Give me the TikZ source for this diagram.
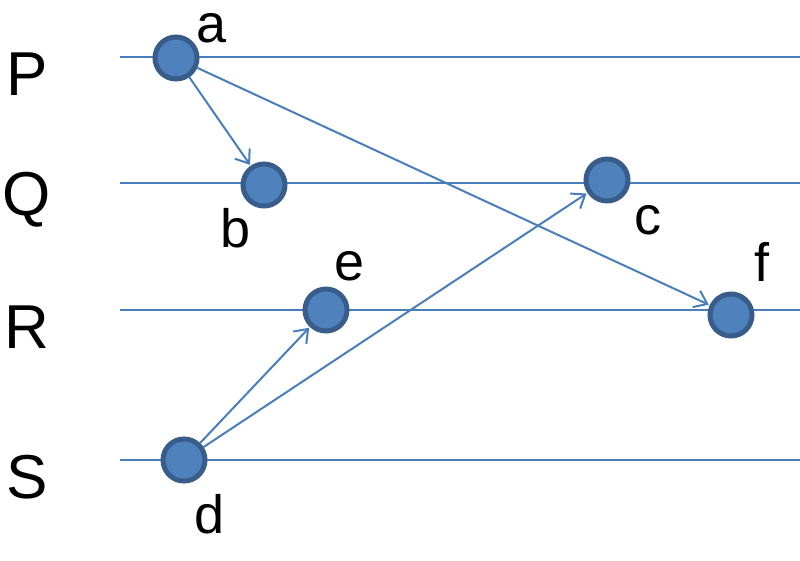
\documentclass[tikz,border=0pt]{standalone}
\usepackage{fontspec}
\setmainfont{Liberation Sans}
\usetikzlibrary{arrows.meta}
\definecolor{ln}{HTML}{4A7EBB}
\definecolor{fillc}{HTML}{4F81BD}
\definecolor{rim}{HTML}{385D8A}
\begin{document}
\begin{tikzpicture}[x=1pt,y=-1pt,
  ev/.style={circle,fill=fillc,draw=rim,line width=5pt,minimum size=42pt,inner sep=0pt},
  lane/.style={draw=ln,line width=2.2pt},
  msg/.style={draw=ln,line width=2pt,-{Straight Barb[length=12pt,width=18pt,line width=2pt]},shorten >=1pt},
  lbl/.style={font=\fontsize{62}{66}\selectfont},
  nm/.style={font=\fontsize{54}{58}\selectfont}]
\useasboundingbox (0,0) rectangle (800,561);
\foreach \n/\y in {P/57,Q/183,R/310,S/460}{
  \coordinate (l\n) at (120,\y); \coordinate (r\n) at (800,\y);
  \draw[lane] (l\n) -- (r\n);
  \node[lbl] (t\n) at (27,\y+17) {\n};
}
\node[ev] (a) at (176,58) {};
\node[ev] (b) at (264,185) {};
\node[ev] (c) at (607,180) {};
\node[ev] (e) at (326,310) {};
\node[ev] (f) at (731,315) {};
\node[ev] (d) at (184,460) {};
\node[nm] (la) at (212,28) {a};
\node[nm] (lb) at (236,228) {b};
\node[nm] (lc) at (648,220) {c};
\node[nm] (le) at (350,266) {e};
\node[nm] (lf) at (762,262) {f};
\node[nm] (ld) at (210,514) {d};
\draw[msg] (a) -- (b);
\draw[msg] (a) -- (f);
\draw[msg] (d) -- (e);
\draw[msg] (d) -- (c);
\end{tikzpicture}
\end{document}
